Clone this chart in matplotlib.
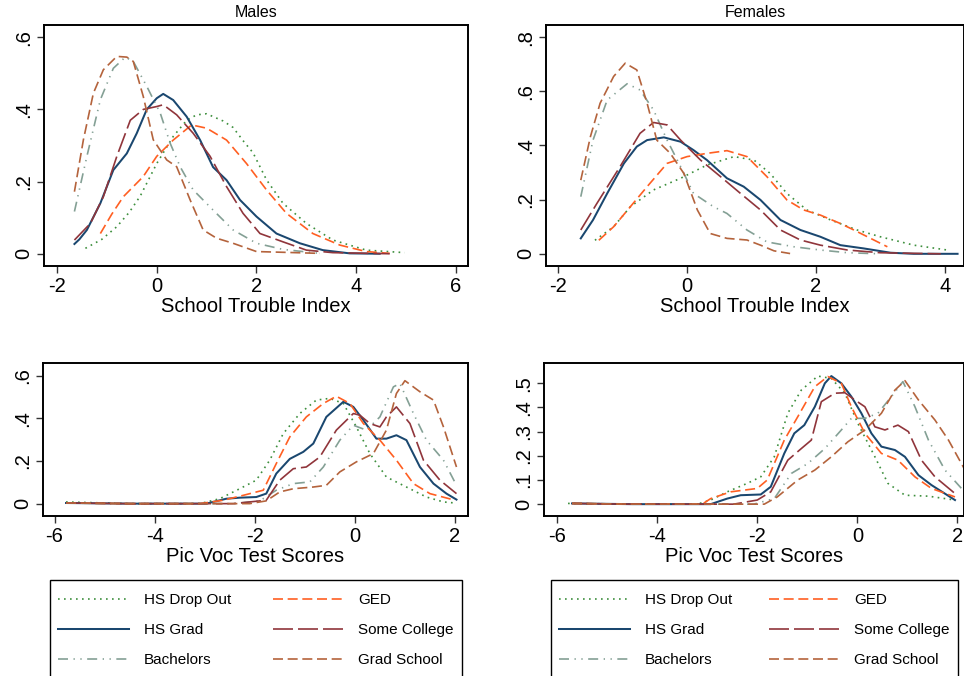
import matplotlib
matplotlib.use("Agg")
import matplotlib.pyplot as plt
from matplotlib.patches import Rectangle

plt.rcParams['font.family'] = ['Liberation Sans', 'DejaVu Sans']

# series labels and styles
groups = ["HS Drop Out", "HS Grad", "Bachelors", "GED", "Some College", "Grad School"]
colors = ["#3d8f3d", "#1a476f", "#84a095", "#ff5f22", "#90353b", "#b4633c"]
dashes = [(0, (1, 2.6)), "-", (0, (6, 3.3, 0.8, 3.3, 0.8, 3.3)),
          (0, (6, 2.8)), (0, (12, 3)), (0, (6, 2.8))]

#### Males - School Trouble Index
m_sti_drop_x = [-1.43, -1.1, -0.8, -0.55, -0.33, 0.0, 0.33, 0.6, 0.8, 1.0, 1.13, 1.33, 1.53, 1.75, 1.93, 2.2, 2.53, 3.0, 3.53, 4.2, 4.97]
m_sti_drop_y = [0.015, 0.04, 0.075, 0.115, 0.16, 0.25, 0.325, 0.37, 0.385, 0.388, 0.38, 0.368, 0.35, 0.31, 0.28, 0.205, 0.14, 0.084, 0.038, 0.01, 0.003]
m_sti_grad_x = [-1.65, -1.55, -1.4, -1.13, -0.87, -0.6, -0.4, -0.2, 0.0, 0.13, 0.33, 0.6, 0.87, 1.13, 1.4, 1.67, 2.0, 2.4, 2.87, 3.33, 3.87, 4.47]
m_sti_grad_y = [0.027, 0.04, 0.066, 0.14, 0.232, 0.278, 0.334, 0.4, 0.431, 0.443, 0.426, 0.38, 0.315, 0.24, 0.204, 0.149, 0.103, 0.056, 0.029, 0.01, 0.001, 0.0]
m_sti_bach_x = [-1.65, -1.4, -1.13, -0.87, -0.63, -0.47, -0.2, 0.07, 0.27, 0.47, 0.73, 1.13, 1.53, 2.0, 2.53, 3.27]
m_sti_bach_y = [0.117, 0.27, 0.427, 0.514, 0.545, 0.533, 0.464, 0.39, 0.306, 0.241, 0.177, 0.121, 0.066, 0.029, 0.012, 0.001]
m_sti_ged_x = [-1.13, -0.9, -0.67, -0.27, 0.0, 0.33, 0.7, 1.0, 1.4, 1.8, 2.2, 2.6, 3.13, 3.67, 4.2, 4.67]
m_sti_ged_y = [0.056, 0.11, 0.158, 0.214, 0.27, 0.315, 0.357, 0.348, 0.315, 0.25, 0.177, 0.112, 0.056, 0.024, 0.006, 0.001]
m_sti_some_x = [-1.65, -1.33, -1.07, -0.8, -0.53, -0.27, 0.0, 0.13, 0.4, 0.73, 1.07, 1.4, 1.73, 2.07, 2.53, 3.0, 3.53, 4.67]
m_sti_some_y = [0.038, 0.084, 0.158, 0.27, 0.37, 0.4, 0.408, 0.413, 0.385, 0.334, 0.27, 0.186, 0.112, 0.056, 0.033, 0.01, 0.003, 0.0]
m_sti_gs_x = [-1.65, -1.47, -1.27, -1.07, -0.8, -0.6, -0.47, -0.27, -0.07, 0.2, 0.4, 0.67, 0.93, 1.2, 1.53, 2.0, 2.53, 3.27]
m_sti_gs_y = [0.172, 0.316, 0.445, 0.51, 0.547, 0.545, 0.533, 0.436, 0.316, 0.26, 0.241, 0.149, 0.066, 0.043, 0.029, 0.006, 0.004, 0.001]

#### Females - School Trouble Index
f_sti_drop_x = [-1.43, -1.14, -0.88, -0.52, -0.1, 0.31, 0.73, 1.04, 1.29, 1.55, 1.86, 2.23, 2.64, 3.0, 3.52, 4.04]
f_sti_drop_y = [0.05, 0.1, 0.174, 0.236, 0.279, 0.328, 0.359, 0.346, 0.297, 0.223, 0.162, 0.125, 0.088, 0.063, 0.032, 0.014]
f_sti_grad_x = [-1.65, -1.46, -1.24, -0.98, -0.78, -0.62, -0.36, -0.1, 0.1, 0.31, 0.62, 0.88, 1.14, 1.45, 1.76, 2.07, 2.38, 2.74, 3.16, 3.52, 4.2]
f_sti_grad_y = [0.057, 0.125, 0.223, 0.334, 0.396, 0.42, 0.43, 0.414, 0.383, 0.346, 0.279, 0.248, 0.199, 0.125, 0.088, 0.063, 0.032, 0.02, 0.004, 0.0, 0.0]
f_sti_bach_x = [-1.65, -1.46, -1.24, -0.93, -0.73, -0.52, -0.31, -0.1, 0.1, 0.41, 0.62, 0.93, 1.24, 1.66, 2.07, 2.49, 3.0]
f_sti_bach_y = [0.211, 0.42, 0.568, 0.628, 0.605, 0.531, 0.42, 0.322, 0.223, 0.174, 0.149, 0.088, 0.044, 0.026, 0.014, 0.004, 0.0]
f_sti_ged_x = [-1.37, -1.14, -0.88, -0.62, -0.31, 0.0, 0.31, 0.62, 0.93, 1.24, 1.55, 1.81, 2.07, 2.38, 2.59, 2.85, 3.11]
f_sti_ged_y = [0.05, 0.1, 0.174, 0.248, 0.334, 0.359, 0.371, 0.381, 0.359, 0.285, 0.199, 0.162, 0.143, 0.112, 0.088, 0.057, 0.026]
f_sti_some_x = [-1.65, -1.4, -1.04, -0.73, -0.52, -0.31, -0.1, 0.21, 0.52, 0.83, 1.14, 1.45, 1.76, 2.07, 2.49, 3.0, 3.94]
f_sti_some_y = [0.088, 0.186, 0.322, 0.445, 0.485, 0.476, 0.42, 0.346, 0.285, 0.223, 0.162, 0.088, 0.051, 0.032, 0.014, 0.004, 0.0]
f_sti_gs_x = [-1.65, -1.5, -1.35, -1.14, -0.96, -0.78, -0.62, -0.47, -0.26, -0.05, 0.16, 0.36, 0.62, 0.93, 1.14, 1.35, 1.6]
f_sti_gs_y = [0.272, 0.433, 0.556, 0.655, 0.704, 0.679, 0.556, 0.42, 0.371, 0.297, 0.162, 0.075, 0.057, 0.051, 0.032, 0.011, 0.001]

#### Males - Pic Voc Test Scores
m_pvt_drop_x = [-5.77, -4.5, -3.1, -2.7, -2.3, -1.97, -1.7, -1.43, -1.1, -0.77, -0.5, -0.23, 0.03, 0.3, 0.63, 1.03, 1.43, 1.77, 2.0]
m_pvt_drop_y = [0.008, 0.0, 0.0, 0.023, 0.07, 0.11, 0.204, 0.329, 0.423, 0.486, 0.494, 0.47, 0.36, 0.235, 0.125, 0.078, 0.031, 0.008, 0.003]
m_pvt_grad_x = [-5.77, -4.5, -2.97, -2.57, -2.3, -1.97, -1.77, -1.57, -1.3, -1.03, -0.83, -0.57, -0.23, -0.03, 0.17, 0.43, 0.63, 0.83, 1.03, 1.3, 1.57, 1.83, 2.03]
m_pvt_grad_y = [0.003, 0.0, 0.0, 0.023, 0.028, 0.031, 0.047, 0.141, 0.21, 0.243, 0.282, 0.407, 0.478, 0.454, 0.392, 0.305, 0.305, 0.321, 0.298, 0.172, 0.094, 0.047, 0.019]
m_pvt_bach_x = [-5.77, -4.5, -2.43, -1.9, -1.57, -1.23, -0.9, -0.63, -0.3, -0.03, 0.23, 0.5, 0.77, 0.9, 1.17, 1.43, 1.77, 2.03]
m_pvt_bach_y = [0.003, 0.0, 0.0, 0.013, 0.063, 0.094, 0.102, 0.172, 0.298, 0.368, 0.345, 0.407, 0.548, 0.564, 0.423, 0.298, 0.204, 0.086]
m_pvt_ged_x = [-5.77, -4.5, -3.1, -2.63, -2.23, -1.83, -1.57, -1.3, -0.97, -0.63, -0.37, -0.1, 0.17, 0.5, 0.83, 1.17, 1.5, 2.0]
m_pvt_ged_y = [0.003, 0.0, 0.0, 0.016, 0.039, 0.063, 0.188, 0.313, 0.407, 0.47, 0.504, 0.47, 0.376, 0.298, 0.204, 0.094, 0.047, 0.016]
m_pvt_some_x = [-5.77, -4.5, -2.43, -2.1, -1.77, -1.5, -1.23, -0.97, -0.7, -0.37, -0.03, 0.1, 0.3, 0.5, 0.63, 0.83, 1.1, 1.37, 1.7, 2.03]
m_pvt_some_y = [0.003, 0.0, 0.0, 0.008, 0.016, 0.11, 0.164, 0.172, 0.219, 0.345, 0.423, 0.415, 0.376, 0.36, 0.407, 0.454, 0.376, 0.204, 0.11, 0.047]
m_pvt_gs_x = [-5.77, -4.5, -2.1, -1.77, -1.5, -1.23, -0.83, -0.57, -0.3, 0.03, 0.37, 0.63, 0.83, 1.0, 1.3, 1.57, 1.77, 2.03]
m_pvt_gs_y = [0.003, 0.0, 0.0, 0.013, 0.055, 0.07, 0.078, 0.086, 0.149, 0.196, 0.235, 0.345, 0.517, 0.577, 0.525, 0.486, 0.36, 0.172]

#### Females - Pic Voc Test Scores
f_pvt_drop_x = [-5.78, -4.5, -3.2, -2.93, -2.6, -2.2, -1.93, -1.66, -1.39, -1.12, -0.79, -0.52, -0.25, 0.01, 0.35, 0.61, 0.95, 1.42, 1.95]
f_pvt_drop_y = [0.003, 0.0, 0.0, 0.017, 0.051, 0.086, 0.113, 0.196, 0.376, 0.472, 0.53, 0.52, 0.459, 0.334, 0.196, 0.086, 0.037, 0.033, 0.017]
f_pvt_grad_x = [-5.7, -4.5, -2.93, -2.6, -2.33, -1.93, -1.73, -1.46, -1.26, -1.06, -0.85, -0.65, -0.52, -0.32, -0.12, 0.08, 0.28, 0.48, 0.75, 0.95, 1.22, 1.48, 1.95]
f_pvt_grad_y = [0.003, 0.0, 0.0, 0.023, 0.037, 0.04, 0.072, 0.21, 0.293, 0.327, 0.403, 0.5, 0.53, 0.5, 0.445, 0.376, 0.293, 0.238, 0.224, 0.196, 0.12, 0.079, 0.017]
f_pvt_bach_x = [-5.7, -4.5, -2.07, -1.66, -1.32, -0.99, -0.65, -0.32, -0.12, 0.15, 0.41, 0.68, 0.91, 1.15, 1.42, 1.75, 2.08]
f_pvt_bach_y = [0.003, 0.0, 0.0, 0.023, 0.127, 0.168, 0.23, 0.307, 0.355, 0.355, 0.376, 0.445, 0.507, 0.403, 0.265, 0.141, 0.065]
f_pvt_ged_x = [-5.7, -4.5, -3.1, -2.93, -2.53, -2.0, -1.8, -1.46, -1.19, -0.85, -0.59, -0.32, -0.12, 0.15, 0.48, 0.81, 1.15, 1.48, 1.95]
f_pvt_ged_y = [0.003, 0.0, 0.0, 0.023, 0.051, 0.065, 0.1, 0.265, 0.362, 0.486, 0.528, 0.5, 0.403, 0.293, 0.21, 0.182, 0.113, 0.065, 0.03]
f_pvt_some_x = [-5.7, -4.5, -2.47, -2.0, -1.73, -1.39, -1.12, -0.92, -0.72, -0.45, -0.25, -0.05, 0.15, 0.35, 0.55, 0.81, 1.02, 1.28, 1.55, 1.95]
f_pvt_some_y = [0.003, 0.0, 0.0, 0.017, 0.051, 0.182, 0.23, 0.265, 0.424, 0.459, 0.461, 0.431, 0.403, 0.32, 0.307, 0.327, 0.3, 0.182, 0.113, 0.044]
f_pvt_gs_x = [-5.7, -4.5, -1.86, -1.6, -1.19, -0.85, -0.52, -0.19, 0.15, 0.48, 0.75, 0.95, 1.22, 1.55, 1.82, 2.15]
f_pvt_gs_y = [0.003, 0.0, 0.0, 0.03, 0.1, 0.141, 0.196, 0.258, 0.307, 0.376, 0.472, 0.511, 0.431, 0.348, 0.265, 0.141]

m_sti = [(m_sti_drop_x, m_sti_drop_y), (m_sti_grad_x, m_sti_grad_y), (m_sti_bach_x, m_sti_bach_y),
         (m_sti_ged_x, m_sti_ged_y), (m_sti_some_x, m_sti_some_y), (m_sti_gs_x, m_sti_gs_y)]
f_sti = [(f_sti_drop_x, f_sti_drop_y), (f_sti_grad_x, f_sti_grad_y), (f_sti_bach_x, f_sti_bach_y),
         (f_sti_ged_x, f_sti_ged_y), (f_sti_some_x, f_sti_some_y), (f_sti_gs_x, f_sti_gs_y)]
m_pvt = [(m_pvt_drop_x, m_pvt_drop_y), (m_pvt_grad_x, m_pvt_grad_y), (m_pvt_bach_x, m_pvt_bach_y),
         (m_pvt_ged_x, m_pvt_ged_y), (m_pvt_some_x, m_pvt_some_y), (m_pvt_gs_x, m_pvt_gs_y)]
f_pvt = [(f_pvt_drop_x, f_pvt_drop_y), (f_pvt_grad_x, f_pvt_grad_y), (f_pvt_bach_x, f_pvt_bach_y),
         (f_pvt_ged_x, f_pvt_ged_y), (f_pvt_some_x, f_pvt_some_y), (f_pvt_gs_x, f_pvt_gs_y)]

W, H = 964, 676
fig = plt.figure(figsize=(W / 100, H / 100), dpi=100)

def px_axes(l, t, r, b):
    return fig.add_axes([l / W, 1 - b / H, (r - l) / W, (b - t) / H])

def draw_panel(ax, series, xlim, ylim, xticks, yticks, ylabels, xlabel, title=None):
    lines = []
    for (xs, ys), c, ls, name in zip(series, colors, dashes, groups):
        lw = 1.45 if ls == "-" else 1.2
        ln, = ax.plot(xs, ys, color=c, linestyle=ls, lw=lw, label=name)
        lines.append(ln)
    ax.set_xlim(*xlim)
    ax.set_ylim(*ylim)
    ax.set_xticks(xticks)
    ax.set_xticklabels([f"{t:g}" for t in xticks], fontsize=14.5)
    ax.set_yticks(yticks)
    ax.set_yticklabels(ylabels, fontsize=14.5, rotation=90, va='center')
    ax.set_xlabel(xlabel, fontsize=14.5, labelpad=1)
    ax.tick_params(direction='out', length=5, width=1.0, colors='#333333', labelcolor='black', pad=3)
    for s in ax.spines.values():
        s.set_linewidth(1.4)
    if title:
        ax.set_title(title, fontsize=11.5, pad=6)
    return lines

ax1 = px_axes(44, 25, 468, 266)
lines = draw_panel(ax1, m_sti, (-2.26, 6.24), (-0.034, 0.634), [-2, 0, 2, 4, 6],
                   [0, 0.2, 0.4, 0.6], ["0", ".2", ".4", ".6"], "School Trouble Index", "Males")
ax2 = px_axes(546, 25, 964, 266)
draw_panel(ax2, f_sti, (-2.19, 4.3), (-0.045, 0.845), [-2, 0, 2, 4],
           [0, 0.2, 0.4, 0.6, 0.8], ["0", ".2", ".4", ".6", ".8"], "School Trouble Index", "Females")
ax3 = px_axes(43, 363, 468, 516)
draw_panel(ax3, m_pvt, (-6.23, 2.26), (-0.058, 0.66), [-6, -4, -2, 0, 2],
           [0, 0.2, 0.4, 0.6], ["0", ".2", ".4", ".6"], "Pic Voc Test Scores")
ax4 = px_axes(544, 363, 964, 516)
draw_panel(ax4, f_pvt, (-6.26, 2.13), (-0.049, 0.584), [-6, -4, -2, 0, 2],
           [0, 0.1, 0.2, 0.3, 0.4, 0.5], ["0", ".1", ".2", ".3", ".4", ".5"], "Pic Voc Test Scores")

# legends under each column, frame drawn separately so it runs off the bottom
for lx, rx in [(50, 462), (551, 958)]:
    fig.patches.append(Rectangle((lx / W, -0.01), (rx - lx) / W, 1 - 580 / H + 0.01,
                                 transform=fig.transFigure, fill=False,
                                 edgecolor='black', linewidth=1.0))
    fig.legend(handles=lines, labels=groups, ncol=2, loc='upper left',
               bbox_to_anchor=(lx / W, 0, (rx - lx) / W, 1 - 585 / H),
               mode='expand', borderaxespad=0, fontsize=11, frameon=False,
               handlelength=4.6, handletextpad=1.0, labelspacing=1.05, borderpad=0.55)

fig.savefig("out.png", dpi=100)
